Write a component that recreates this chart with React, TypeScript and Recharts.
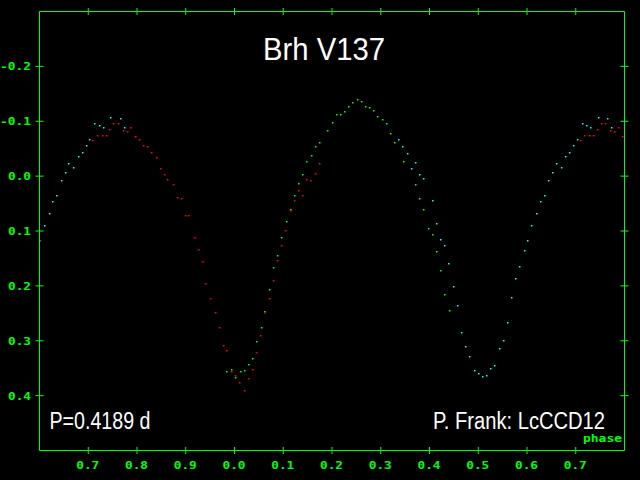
import { ScatterChart, Scatter, XAxis, YAxis } from "recharts";

// phase (0..1) and magnitude of each measurement, by colour of the dot
const cyanPhase = [
  0.747, 0.766, 0.714, 0.723, 0.731, 0.774, 0.704, 0.696, 0.688, 0.68, 0.661, 0.671, 0.653, 0.645, 0.636, 0.628,
  0.62, 0.61, 0.601, 0.337, 0.345, 0.355, 0.371, 0.363, 0.38, 0.388, 0.406, 0.415, 0.423, 0.431, 0.439, 0.45,
  0.458, 0.466, 0.474, 0.482, 0.493, 0.501, 0.509, 0.517, 0.525, 0.534, 0.544, 0.552, 0.56, 0.569, 0.577, 0.585,
  0.595,
];
const cyanMag = [
  -0.107, -0.104, -0.095, -0.091, -0.089, -0.089, -0.066, -0.056, -0.042, -0.036, -0.022, -0.016, -0.006, 0.009,
  0.036, 0.046, 0.069, 0.091, 0.118, -0.066, -0.053, -0.04, -0.024, -0.013, -0.002, 0.004, 0.044, 0.086, 0.116,
  0.126, 0.16, 0.202, 0.236, 0.286, 0.311, 0.329, 0.355, 0.36, 0.366, 0.364, 0.351, 0.346, 0.315, 0.3, 0.267,
  0.222, 0.187, 0.166, 0.136,
];

const redPhase = [
  0.753, 0.762, 0.788, 0.745, 0.772, 0.78, 0.719, 0.729, 0.737, 0.797, 0.805, 0.71, 0.813, 0.823, 0.831, 0.84,
  0.848, 0.856, 0.864, 0.875, 0.883, 0.891, 0.899, 0.907, 0.918, 0.926, 0.934, 0.942, 0.951, 0.961, 0.969, 0.977,
  0.985, 0.994, 0.002, 0.01, 0.02, 0.029, 0.037, 0.045, 0.053, 0.063, 0.072, 0.08, 0.088, 0.096, 0.105, 0.115,
  0.123, 0.131, 0.139, 0.148, 0.156, 0.166, 0.174,
];
const redMag = [
  -0.095, -0.095, -0.089, -0.084, -0.082, -0.08, -0.073, -0.073, -0.073, -0.071, -0.066, -0.064, -0.055, -0.053,
  -0.042, -0.033, -0.013, -0.002, 0.006, 0.015, 0.04, 0.042, 0.073, 0.073, 0.113, 0.135, 0.156, 0.196, 0.224,
  0.249, 0.276, 0.309, 0.318, 0.356, 0.364, 0.376, 0.391, 0.369, 0.353, 0.322, 0.291, 0.249, 0.224, 0.191,
  0.155, 0.126, 0.1, 0.064, 0.044, 0.026, 0.036, 0.007, 0.009, -0.004, -0.022,
];

const greenPhase = [
  0.985, 0.994, 0.002, 0.012, 0.02, 0.029, 0.037, 0.045, 0.055, 0.063, 0.072, 0.08, 0.088, 0.096, 0.107, 0.115,
  0.123, 0.131, 0.139, 0.148, 0.158, 0.166, 0.174, 0.191, 0.201, 0.209, 0.217, 0.226, 0.234, 0.242, 0.252,
  0.261, 0.269, 0.277, 0.285, 0.293, 0.304, 0.312, 0.32, 0.328, 0.347, 0.372, 0.38, 0.388, 0.398, 0.406, 0.415,
  0.423, 0.431, 0.441,
];
const greenMag = [
  0.356, 0.353, 0.367, 0.356, 0.355, 0.344, 0.333, 0.302, 0.276, 0.247, 0.207, 0.167, 0.146, 0.113, 0.084, 0.062,
  0.035, 0.013, -0.002, -0.027, -0.038, -0.053, -0.06, -0.082, -0.098, -0.111, -0.111, -0.118, -0.126, -0.133,
  -0.14, -0.135, -0.127, -0.124, -0.12, -0.109, -0.102, -0.095, -0.078, -0.06, -0.027, 0.015, 0.042, 0.062,
  0.096, 0.106, 0.138, 0.173, 0.216, 0.246,
];

const xTicks = [0.7, 0.8, 0.9, 1.0, 1.1, 1.2, 1.3, 1.4, 1.5, 1.6, 1.7];
const yTicks = [-0.2, -0.1, 0.0, 0.1, 0.2, 0.3, 0.4];

const GREEN = "#00ff00";
const PIXEL_FONT = "DejaVu Sans Mono";
const SANS = "Liberation Sans";

// shift into the plotted window 0.6..1.8, repeating the start of the cycle at the right
function fold(phase: number[], mag: number[]) {
  const pts: { x: number; y: number }[] = [];
  phase.forEach((p, i) => {
    const x = p < 0.6 ? p + 1 : p;
    pts.push({ x, y: mag[i] });
    if (x + 1 <= 1.8) pts.push({ x: x + 1, y: mag[i] });
  });
  return pts;
}

const cyanPts = fold(cyanPhase, cyanMag);
const redPts = fold(redPhase, redMag);
const greenPts = fold(greenPhase, greenMag);

// small square pixel-ish dots
const dot = (color: string) => (props: any) =>
  <rect x={Math.round(props.cx - 0.75)} y={Math.round(props.cy - 0.75)} width={1.5} height={1.5} fill={color} />;

const pixelText = (label: string, x: number, y: number) => (
  <text
    x={x}
    y={y}
    fill={GREEN}
    fontFamily={PIXEL_FONT}
    fontWeight="bold"
    fontSize={10}
    textLength={label.length * 8 - 1}
    lengthAdjust="spacingAndGlyphs"
  >
    {label}
  </text>
);

const xLabel = (v: number) => (v % 1).toFixed(1);
const yLabel = (v: number) => v.toFixed(1);

function BottomTick(props: any) {
  const { x, y, payload } = props;
  const label = xLabel(payload.value);
  return (
    <g>
      <line x1={x} x2={x} y1={y - 3.5} y2={y + 3.5} stroke={GREEN} />
      {pixelText(label, x - 12, y + 18.5)}
    </g>
  );
}

function TopTick(props: any) {
  const { x, y } = props;
  return <line x1={x} x2={x} y1={y - 3.5} y2={y + 3.5} stroke={GREEN} />;
}

function LeftTick(props: any) {
  const { x, y, payload } = props;
  const label = yLabel(payload.value);
  return (
    <g>
      <line x1={x - 4} x2={x + 4} y1={y} y2={y} stroke={GREEN} />
      {pixelText(label, 31 - (label.length * 8 - 1), y + 4)}
    </g>
  );
}

function RightTick(props: any) {
  const { x, y } = props;
  return <line x1={x - 4} x2={x + 4} y1={y} y2={y} stroke={GREEN} />;
}

export default function App() {
  return (
    <div style={{ position: "fixed", left: 0, top: 0, width: 640, height: 480, background: "#000" }}>
      <ScatterChart width={640} height={480} margin={{ top: 0, right: 0, bottom: 0, left: 0 }}>
        <XAxis
          xAxisId="b"
          type="number"
          dataKey="x"
          domain={[0.6, 1.8]}
          allowDataOverflow
          ticks={xTicks}
          interval={0}
          orientation="bottom"
          height={29.5}
          axisLine={{ stroke: GREEN }}
          tickLine={false}
          tickSize={0}
          tickMargin={0}
          tick={(p: any) => <BottomTick {...p} />}
        />
        <XAxis
          xAxisId="t"
          type="number"
          dataKey="x"
          domain={[0.6, 1.8]}
          allowDataOverflow
          ticks={xTicks}
          interval={0}
          orientation="top"
          height={11.5}
          axisLine={{ stroke: GREEN }}
          tickLine={false}
          tickSize={0}
          tickMargin={0}
          tick={(p: any) => <TopTick {...p} />}
        />
        <YAxis
          yAxisId="l"
          type="number"
          dataKey="y"
          domain={[-0.3, 0.5]}
          allowDataOverflow
          reversed
          ticks={yTicks}
          interval={0}
          width={39.5}
          axisLine={{ stroke: GREEN }}
          tickLine={false}
          tickSize={0}
          tickMargin={0}
          tick={(p: any) => <LeftTick {...p} />}
        />
        <YAxis
          yAxisId="r"
          type="number"
          dataKey="y"
          orientation="right"
          domain={[-0.3, 0.5]}
          allowDataOverflow
          reversed
          ticks={yTicks}
          interval={0}
          width={15.5}
          axisLine={{ stroke: GREEN }}
          tickLine={false}
          tickSize={0}
          tickMargin={0}
          tick={(p: any) => <RightTick {...p} />}
        />
        <Scatter xAxisId="b" yAxisId="l" data={cyanPts} shape={dot("#00ffff")} isAnimationActive={false} />
        <Scatter xAxisId="b" yAxisId="l" data={greenPts} shape={dot(GREEN)} isAnimationActive={false} />
        <Scatter xAxisId="b" yAxisId="l" data={redPts} shape={dot("#ff0000")} isAnimationActive={false} />
      </ScatterChart>
      <svg width={640} height={480} style={{ position: "absolute", left: 0, top: 0, pointerEvents: "none" }}>
        <text x={263} y={59.5} fill="#fff" fontFamily={SANS} fontSize={31} textLength={122} lengthAdjust="spacingAndGlyphs">
          Brh V137
        </text>
        <text x={49.5} y={429} fill="#fff" fontFamily={SANS} fontSize={23} textLength={101} lengthAdjust="spacingAndGlyphs">
          P=0.4189 d
        </text>
        <text x={433} y={429} fill="#fff" fontFamily={SANS} fontSize={23} textLength={172} lengthAdjust="spacingAndGlyphs">
          P. Frank: LcCCD12
        </text>
        {pixelText("phase", 583, 441.5)}
      </svg>
    </div>
  );
}
